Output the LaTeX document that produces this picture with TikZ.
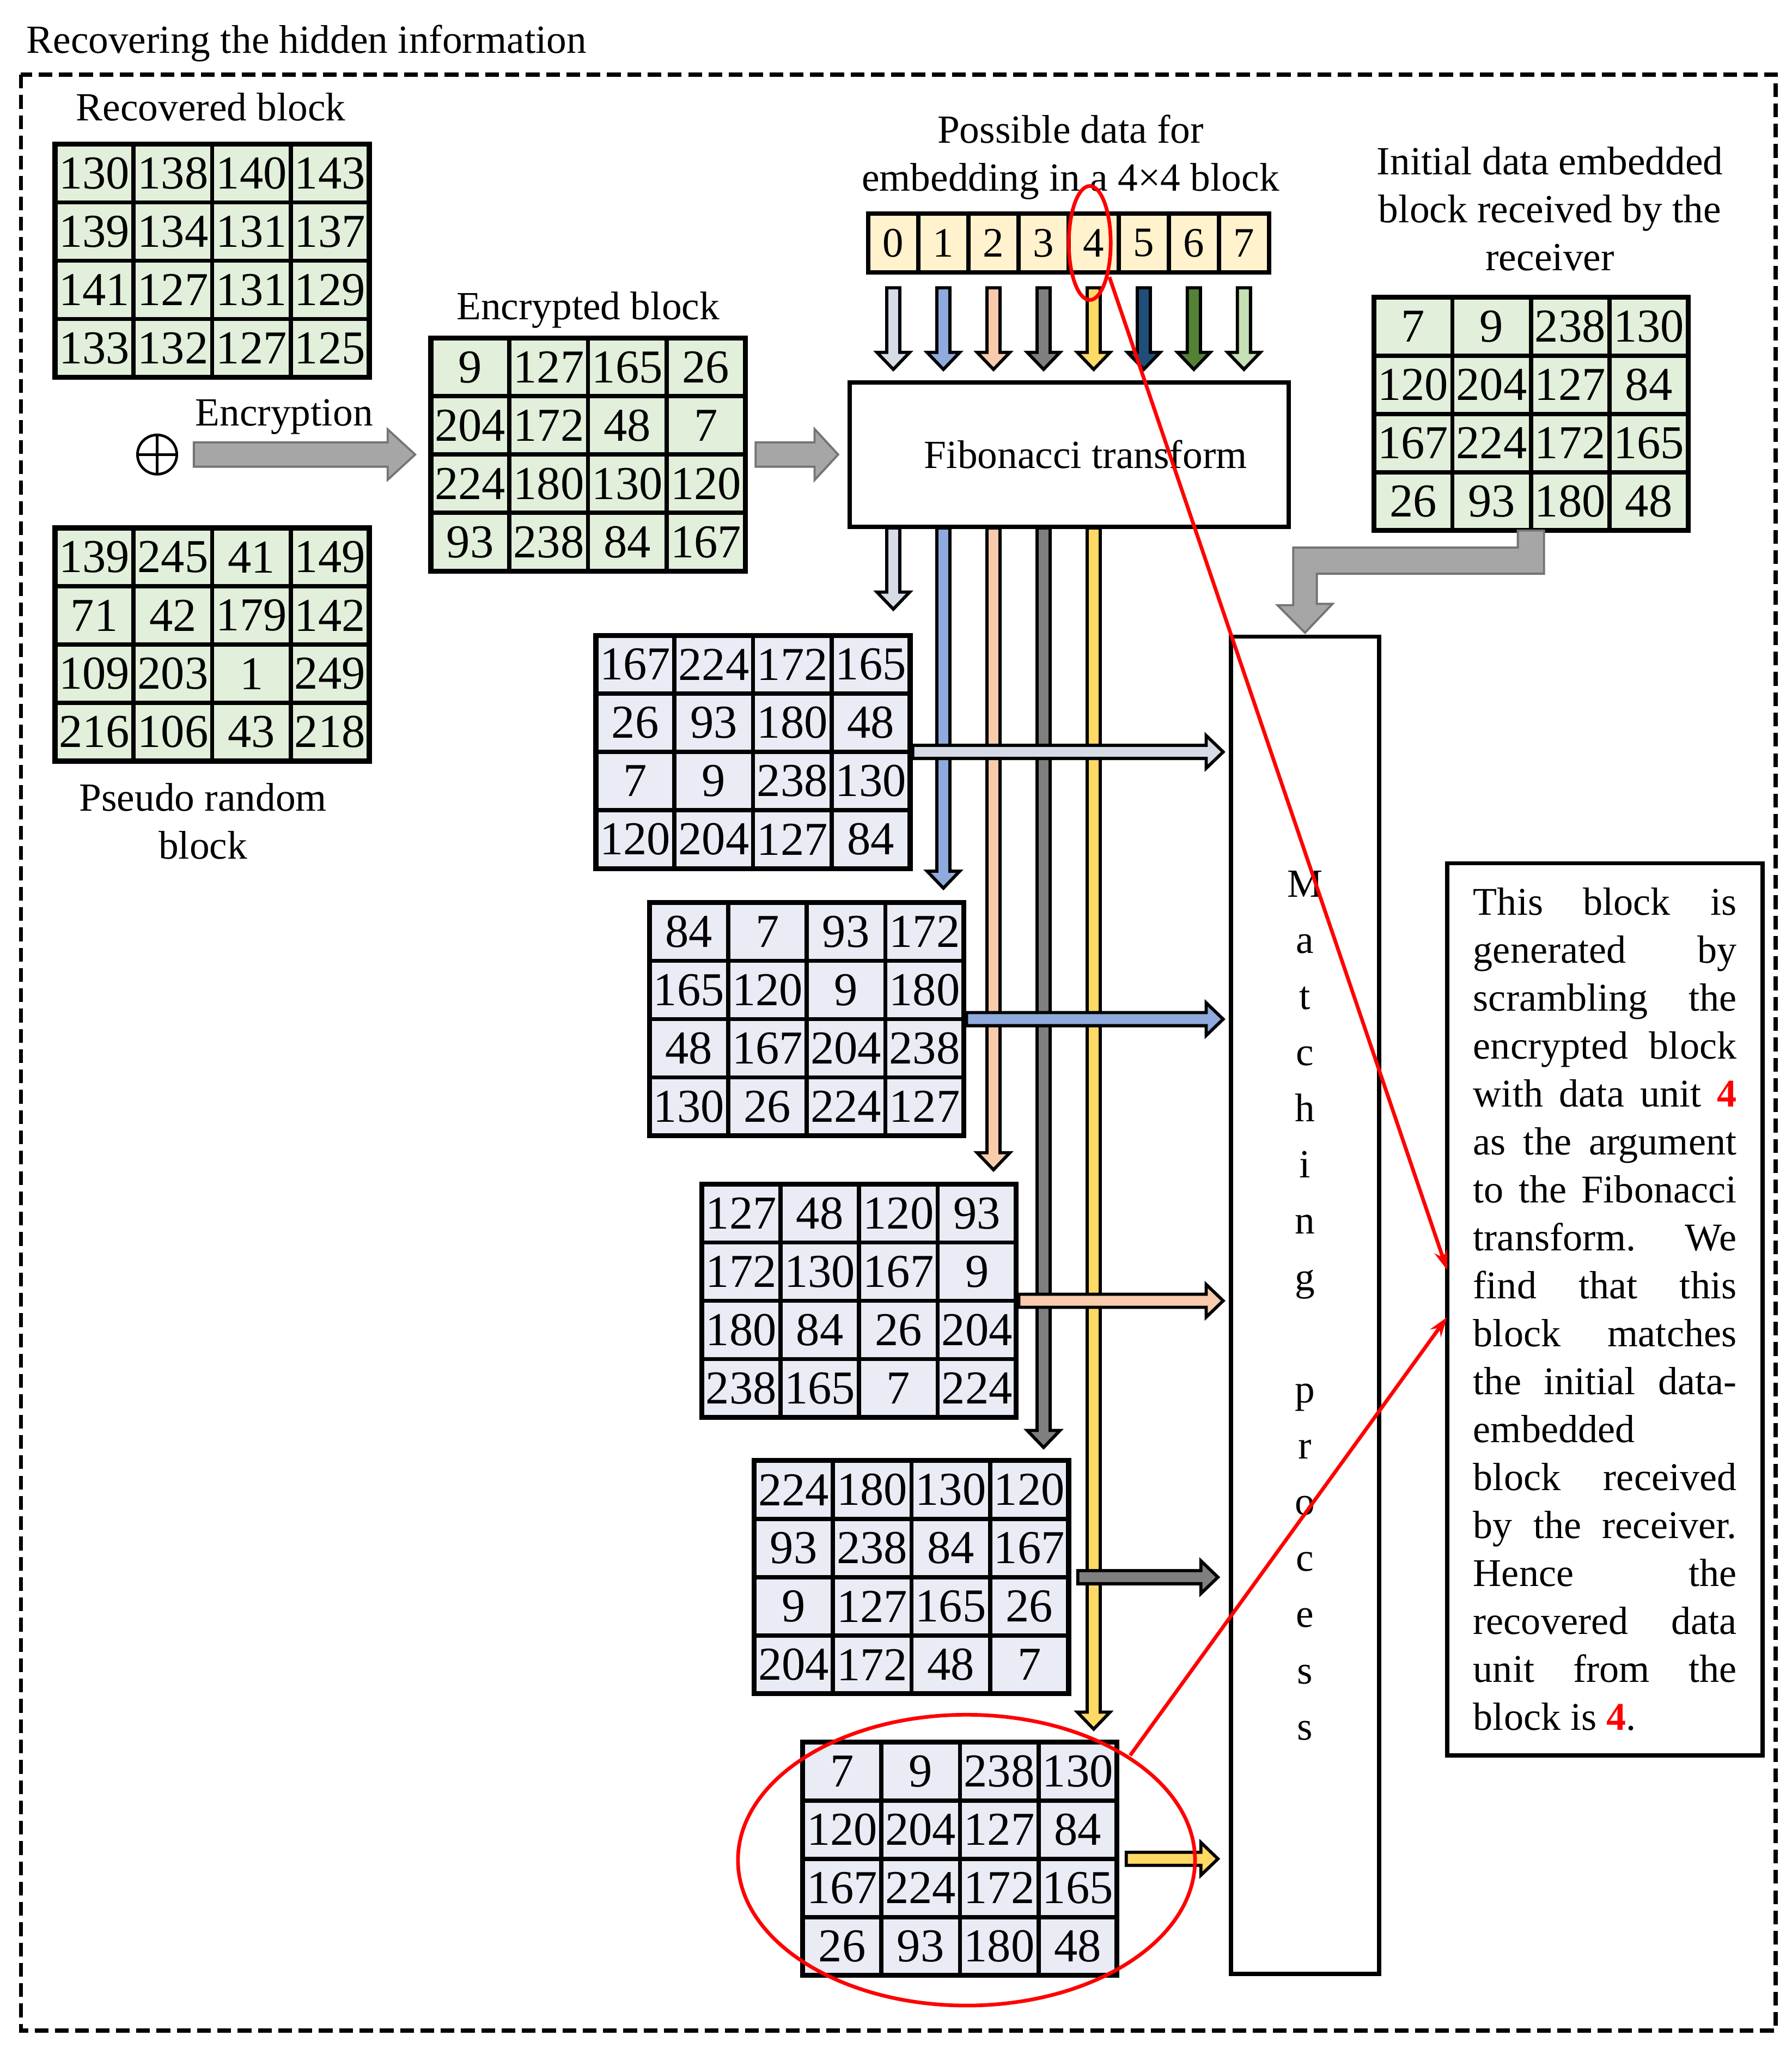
\documentclass[tikz,border=0pt]{standalone}
\usepackage{fontspec}
\setmainfont{Liberation Serif}
\usetikzlibrary{positioning, calc, arrows.meta}

\definecolor{greencell}{HTML}{E2EFDA}
\definecolor{bluecell}{HTML}{E9EBF5}
\definecolor{unitfill}{HTML}{FFF2CC}
\definecolor{ca0}{HTML}{D6DCE5}
\definecolor{ca1}{HTML}{8FAADC}
\definecolor{ca2}{HTML}{F8CBAD}
\definecolor{ca3}{HTML}{7F7F7F}
\definecolor{ca4}{HTML}{FFD966}
\definecolor{ca5}{HTML}{1F4E79}
\definecolor{ca6}{HTML}{548235}
\definecolor{ca7}{HTML}{C5E0B4}
\definecolor{bigarrow}{HTML}{A6A6A6}

\tikzset{cell/.style = {draw, line width=3.2pt, minimum width=60pt, minimum height=44.5pt,
                        inner sep=0pt, outer sep=0pt, font=\fontsize{36}{40}\selectfont},
         unit/.style = {draw, line width=3.5pt, fill=unitfill, minimum width=38.25pt,
                        minimum height=45pt, inner sep=0pt, font=\fontsize{32}{36}\selectfont},
         lbl/.style = {inner sep=0pt, align=center, font=\fontsize{30.5}{36.5}\selectfont},
         box/.style = {draw, line width=3.3pt, fill=white, inner sep=0pt, outer sep=0pt},
         arrowline/.style = {draw=black, line width=2.4pt},
         greyarrow/.style = {draw=bigarrow!70!black, line width=1.6pt, fill=bigarrow},
         redline/.style = {red, line width=2.8pt}}

\newcommand\numblock[5]{%
  \foreach \v [count=\k from 0] in {#5} {
    \pgfmathtruncatemacro\rr{floor(\k/4)}
    \pgfmathtruncatemacro\cc{mod(\k,4)}
    \node[cell, fill=#4] (#1-\rr-\cc) at ({#2+60*\cc+30}, {#3+44.5*\rr+22.25}) {\v};
  }
  \draw[line width=3.8pt] (#1-0-0.north west) rectangle (#1-3-3.south east);
}

\newcommand\blockarrow[6]{%
  \coordinate (ba-s) at (#5);
  \coordinate (ba-e) at (#6);
  \coordinate (ba-h) at ($(ba-e)!#4!(ba-s)$);
  \draw[#1] ($(ba-s)!#2!90:(ba-e)$) -- ($(ba-h)!#2!90:(ba-e)$) -- ($(ba-h)!#3!90:(ba-e)$)
    -- (ba-e) -- ($(ba-h)!#3!-90:(ba-e)$) -- ($(ba-h)!#2!-90:(ba-e)$)
    -- ($(ba-s)!#2!-90:(ba-e)$) -- cycle;
}

\newcommand\jline[1]{\hbox to 201pt{#1}}

\begin{document}
\begin{tikzpicture}[x=1pt, y=-1pt]
  \useasboundingbox (0,0) rectangle (1368,1568);

  \node[lbl, anchor=base west] (title) at (20,40.5) {Recovering the hidden information};
  \draw[line width=3.2pt, dash pattern=on 10.5pt off 5pt] (16,57) rectangle (1356,1550);

  % left column
  \node[lbl, anchor=base] (recovlbl) at (161,92) {Recovered block};
  \numblock{recov}{42}{110}{greencell}{130,138,140,143,139,134,131,137,141,127,131,129,133,132,127,125}
  \numblock{prand}{42}{403}{greencell}{139,245,41,149,71,42,179,142,109,203,1,249,216,106,43,218}
  \node[lbl] (prandlbl) at (155,627) {Pseudo random\\block};

  \node[circle, draw, line width=2pt, minimum size=30pt, inner sep=0pt, outer sep=0pt] (xor) at (120,347) {};
  \draw[line width=2pt] (xor.north) -- (xor.south) (xor.west) -- (xor.east);
  \node[lbl, anchor=base] (enclbl) at (217,325) {Encryption};

  \node[lbl, anchor=base] (encrlbl) at (449,244) {Encrypted block};
  \numblock{encr}{329}{258}{greencell}{9,127,165,26,204,172,48,7,224,180,130,120,93,238,84,167}
  \blockarrow{greyarrow}{9.3pt}{19.3pt}{21pt}{$(xor.east)+(13,0)$}{$(encr-1-0.south west)+(-12,0)$}

  % data units and transform
  \node[lbl] (datalbl) at (817.5,120) {Possible data for\\embedding in a 4×4 block};
  \foreach \i in {0,...,7} {
    \node[unit] (u\i) at ({663+38.25*\i+19.125},185.5) {\i};
  }

  \node[box, minimum width=335pt, minimum height=110pt, font=\fontsize{30.5}{36.5}\selectfont] (fib)
    at (816.5,347) {\hspace*{25pt}Fibonacci transform};
  \blockarrow{greyarrow}{9.3pt}{19.5pt}{18pt}{$(encr-1-3.south east)+(8,0)$}{$(encr-1-3.south east -| fib.west)+(-9,0)$}

  \foreach \i in {0,...,7} {
    \blockarrow{arrowline, fill=ca\i}{5pt}{12.5pt}{13pt}{$(u\i.south)+(0,10)$}{$(u\i |- fib.north)+(0,-10)$}
  }

  % scrambled blocks
  \numblock{m0}{455}{485}{bluecell}{167,224,172,165,26,93,180,48,7,9,238,130,120,204,127,84}
  \numblock{m1}{496}{689}{bluecell}{84,7,93,172,165,120,9,180,48,167,204,238,130,26,224,127}
  \numblock{m2}{536}{904}{bluecell}{127,48,120,93,172,130,167,9,180,84,26,204,238,165,7,224}
  \numblock{m3}{576}{1115}{bluecell}{224,180,130,120,93,238,84,167,9,127,165,26,204,172,48,7}
  \numblock{m4}{613}{1330}{bluecell}{7,9,238,130,120,204,127,84,167,224,172,165,26,93,180,48}

  \foreach \i/\m/\g in {0/m0/20, 1/m1/11, 2/m2/11, 3/m3/10, 4/m4/10} {
    \blockarrow{arrowline, fill=ca\i}{5pt}{12.5pt}{13pt}{$(u\i |- fib.south)+(0,1)$}{$(u\i |- \m-0-0.north)+(0,-\g)$}
  }

  \node[box, minimum width=113pt, minimum height=1021pt, align=center,
        font=\fontsize{30.5}{42.9}\selectfont] (match) at (996.5,996.5)
    {M\\a\\t\\c\\h\\i\\n\\g\\[42.9pt]p\\r\\o\\c\\e\\s\\s};

  \foreach \i/\m/\a/\b in {0/m0/2/6, 1/m1/2/6, 2/m2/2/6, 3/m3/7/10, 4/m4/7/10} {
    \blockarrow{arrowline, fill=ca\i}{5pt}{12.5pt}{13pt}{$(\m-1-3.south east)+(\a,0)$}{$(\m-1-3.south east -| match.west)+(-\b,0)$}
  }

  % received block
  \node[lbl] (initlbl) at (1183.5,159.5) {Initial data embedded\\block received by the\\receiver};
  \numblock{initb}{1049}{227}{greencell}{7,9,238,130,120,204,127,84,167,224,172,165,26,93,180,48}
  \coordinate (rs) at (initb-3-1.south east);
  \coordinate (mt) at ($(match.north)+(0,-3)$);
  \draw[greyarrow] ($(rs)+(-10,0)$) -- ++(20,0) -- ++(0,33) -- ($(mt |- rs)+(9,33)$) -- ++(0,23)
    -- ++(12,0) -- (mt) -- ++(-21,-21) -- ++(12,0) -- ($(mt |- rs)+(-9,13)$) -- ($(rs)+(-10,13)$) -- cycle;

  % explanation
  \node[box, minimum width=241pt, minimum height=681pt, align=left,
        font=\fontsize{30}{36.6}\selectfont] (expl) at (1225.5,999.5)
    {\jline{This\hfill block\hfill is}\\
     \jline{generated\hfill by}\\
     \jline{scrambling\hfill the}\\
     \jline{encrypted\hfill block}\\
     \jline{with\hfill data\hfill unit\hfill {\color{red}\bfseries 4}}\\
     \jline{as\hfill the\hfill argument}\\
     \jline{to\hfill the\hfill Fibonacci}\\
     \jline{transform.\hfill We}\\
     \jline{find\hfill that\hfill this}\\
     \jline{block\hfill matches}\\
     \jline{the\hfill initial\hfill data-}\\
     \jline{embedded\hfill}\\
     \jline{block\hfill received}\\
     \jline{by\hfill the\hfill receiver.}\\
     \jline{Hence\hfill the}\\
     \jline{recovered\hfill data}\\
     \jline{unit\hfill from\hfill the}\\
     \jline{block is {\color{red}\bfseries 4}.\hfill}};

  % highlights
  \draw[redline] ($(u4)+(-3,0)$) ellipse [x radius=16, y radius=43.5];
  \coordinate (r1) at ($(u4)+(12,26)$);
  \draw[redline, -{Stealth[length=15pt, width=10pt]}] (r1) -- ($(expl.west)+(0,-30)$);
  \coordinate (m4c) at ($(m4-1-1.south east)+(5,1)$);
  \draw[redline] (m4c) ellipse [x radius=174.5, y radius=111];
  \coordinate (r2) at ($(m4c)+(125,-80)$);
  \draw[redline, -{Stealth[length=15pt, width=10pt]}] (r2) -- ($(expl.west)+(0,6)$);
\end{tikzpicture}
\end{document}
